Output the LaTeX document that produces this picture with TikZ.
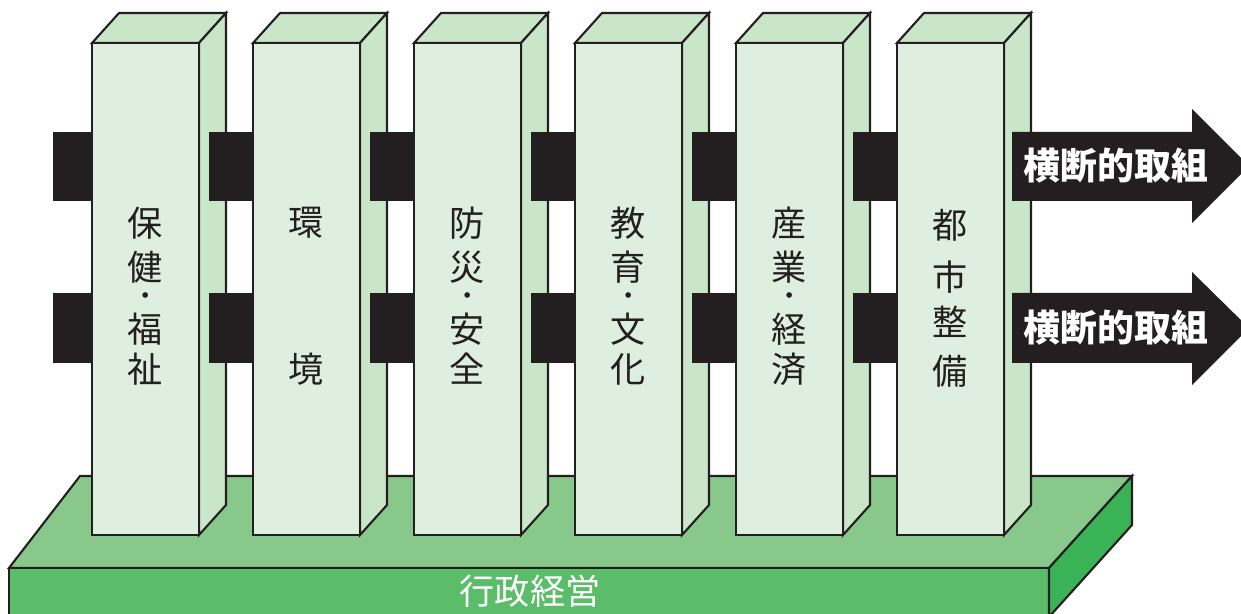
\documentclass[tikz,border=0pt]{standalone}
\usepackage{fontspec}
\usepackage{xcolor}
\usetikzlibrary{positioning}
\newfontfamily\jp{Noto Sans CJK JP}
\definecolor{pfront}{HTML}{DFEFDF}
\definecolor{pside}{HTML}{C9E6C9}
\definecolor{btop}{HTML}{88C98B}
\definecolor{bfront}{HTML}{5BBC6A}
\definecolor{bside}{HTML}{3AB356}
\definecolor{ink}{HTML}{231F20}
\tikzstyle{edge} = [draw=ink, line width=1.2pt, line join=miter]
\tikzstyle{beam} = [fill=ink]
\tikzstyle{ptext} = [font=\jp\fontsize{20}{24}\selectfont, text=ink, inner sep=0pt]
\tikzstyle{pdot} = [font=\jp\fontsize{15}{16}\selectfont, text=ink, inner sep=0pt]
\tikzstyle{atext} = [font=\jp\bfseries\fontsize{21}{24}\selectfont, text=white, inner sep=0pt]
\def\pw{107}
\def\dx{27}
\def\dy{30}

\begin{document}
\begin{tikzpicture}[x=0.02cm,y=-0.02cm]

\useasboundingbox (0,0) rectangle (1241,614);

\draw[edge,fill=btop] (9,568) -- (80,476) -- (1132,476) -- (1049,568) -- cycle;
\draw[edge,fill=bfront] (9,568) rectangle (1049,640);
\draw[edge,fill=bside] (1049,568) -- (1132,476) -- (1132,525) -- (1049,617) -- cycle;
\node[ptext,text=white] (gyosei) at (530,591) {行政経営};

\fill[beam] (53,132) rectangle (92,201);
\fill[beam] (53,293) rectangle (92,363);

\foreach \i in {0,...,5}{
  \pgfmathsetmacro{\xa}{92+161*\i}
  \draw[edge,fill=pside] (\xa,43) -- (\xa+\dx,43-\dy) -- (\xa+\pw+\dx,43-\dy) -- (\xa+\pw,43) -- cycle;
  \draw[edge,fill=pside] (\xa+\pw,43) -- (\xa+\pw+\dx,43-\dy) -- (\xa+\pw+\dx,535-\dy) -- (\xa+\pw,535) -- cycle;
  \draw[edge,fill=pfront] (\xa,43) rectangle (\xa+\pw,535);
  \coordinate (p\i) at (\xa+\pw/2,0);
  \node[pdot] (dot\i) at (\xa+\pw/2,299) {};
  \ifnum\i<5
    \fill[beam] (\xa+117,132) rectangle (\xa+161,201);
    \fill[beam] (\xa+117,293) rectangle (\xa+161,363);
  \fi
}

\fill[beam] (1012,132) -- (1192,132) -- (1192,109) -- (1249,166) -- (1192,223) -- (1192,201) -- (1012,201) -- cycle;
\fill[beam] (1012,293) -- (1192,293) -- (1192,272) -- (1249,328) -- (1192,385) -- (1192,363) -- (1012,363) -- cycle;
\node[atext] (yoko1) at (1116,166) {横断的取組};
\node[atext] (yoko2) at (1116,328) {横断的取組};

\foreach \c/\y in {保/223,健/267,福/329,祉/369}
  \node[ptext] (hoken\y) at (p0|-0,\y) {\c};
\foreach \c/\y in {環/223,境/369}
  \node[ptext] (kankyo\y) at (p1|-0,\y) {\c};
\foreach \c/\y in {防/223,災/267,安/329,全/369}
  \node[ptext] (bosai\y) at (p2|-0,\y) {\c};
\foreach \c/\y in {教/223,育/267,文/329,化/369}
  \node[ptext] (kyoiku\y) at (p3|-0,\y) {\c};
\foreach \c/\y in {産/223,業/267,経/329,済/369}
  \node[ptext] (sangyo\y) at (p4|-0,\y) {\c};
\foreach \c/\y in {都/225,市/277,整/322,備/371}
  \node[ptext] (toshi\y) at (p5|-0,\y) {\c};
\foreach \i in {0,2,3,4}
  \node[pdot] at (dot\i) {・};

\end{tikzpicture}
\end{document}
